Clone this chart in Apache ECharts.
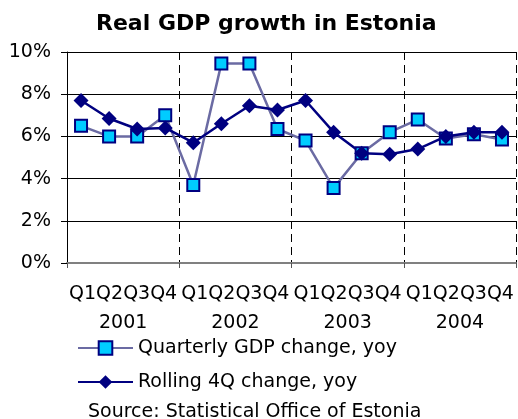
<!DOCTYPE html>
<html>
<head>
<meta charset="utf-8">
<script src="https://cdn.jsdelivr.net/npm/echarts@6/dist/echarts.min.js"></script>
<style>
  html, body { margin: 0; padding: 0; background: #fff; }
  #chart { width: 518px; height: 419px; }
</style>
</head>
<body>
<div id="chart"></div>
<script>
  // quarters 2001 Q1 .. 2004 Q4
  const quarters = [
    '2001Q1', '2001Q2', '2001Q3', '2001Q4',
    '2002Q1', '2002Q2', '2002Q3', '2002Q4',
    '2003Q1', '2003Q2', '2003Q3', '2003Q4',
    '2004Q1', '2004Q2', '2004Q3', '2004Q4'
  ];
  const years = ['2001', '2002', '2003', '2004'];
  const quarterLabel = 'Q1Q2Q3Q4';

  // percent, yoy
  const quarterlyChange = [6.5, 6.0, 6.0, 7.0, 3.7, 9.45, 9.45, 6.35, 5.8, 3.55, 5.2, 6.2, 6.8, 5.9, 6.1, 5.85];
  const rolling4Q = [7.7, 6.85, 6.35, 6.4, 5.7, 6.6, 7.45, 7.25, 7.7, 6.2, 5.2, 5.15, 5.4, 6.0, 6.2, 6.2];

  const fontFamily = '"DejaVu Sans", sans-serif';

  const chart = echarts.init(document.getElementById('chart'));

  chart.setOption({
    animation: false,
    textStyle: {fontFamily: fontFamily, color: '#000'},
    title: [
      {
        text: 'Real GDP growth in Estonia',
        left: 96,
        top: 13,
        padding: 0,
        textStyle: {fontFamily: fontFamily, fontSize: 22, fontWeight: 'bold', color: '#000'}
      },
      {
        text: 'Source: Statistical Office of Estonia',
        left: 88,
        top: 403,
        padding: 0,
        textStyle: {fontFamily: fontFamily, fontSize: 19, fontWeight: 'normal', color: '#000'}
      }
    ],
    grid: {
      left: 67,
      right: 2,
      top: 52,
      bottom: 156
    },
    legend: {
      orient: 'vertical',
      left: 77,
      top: 337,
      padding: 0,
      itemWidth: 55,
      itemHeight: 17,
      itemGap: 12,
      textStyle: {fontFamily: fontFamily, fontSize: 19, color: '#000', lineHeight: 22},
      data: ['Quarterly GDP change, yoy', 'Rolling 4Q change, yoy']
    },
    xAxis: [
      {
        type: 'category',
        data: quarters,
        boundaryGap: true,
        position: 'bottom',
        axisLine: {lineStyle: {color: '#808080', width: 2}},
        axisTick: {show: false},
        axisLabel: {show: false},
        splitLine: {show: false}
      },
      {
        type: 'category',
        data: years,
        boundaryGap: true,
        position: 'bottom',
        axisLine: {show: false},
        axisTick: {
          show: true,
          length: 5,
          interval: 0,
          lineStyle: {color: '#555'}
        },
        axisLabel: {
          interval: 0,
          margin: 17,
          fontSize: 19,
          lineHeight: 29,
          color: '#000',
          formatter: function (v) {
            return quarterLabel + '\n' + v;
          }
        },
        splitLine: {
          show: true,
          interval: 0,
          lineStyle: {color: '#000', width: 1, type: [8, 5]}
        }
      }
    ],
    yAxis: {
      type: 'value',
      min: 0,
      max: 10,
      interval: 2,
      axisLine: {show: true, lineStyle: {color: '#000', width: 1}},
      axisTick: {show: true, length: 6, lineStyle: {color: '#000'}},
      axisLabel: {
        margin: 16,
        fontSize: 19,
        color: '#000',
        formatter: '{value}%'
      },
      splitLine: {lineStyle: {color: '#000', width: 1}}
    },
    series: [
      {
        name: 'Quarterly GDP change, yoy',
        type: 'line',
        xAxisIndex: 0,
        symbol: 'rect',
        symbolSize: 12,
        lineStyle: {color: '#6b6ba3', width: 2.5},
        itemStyle: {color: '#00ccff', borderColor: '#000080', borderWidth: 2},
        data: quarterlyChange
      },
      {
        name: 'Rolling 4Q change, yoy',
        type: 'line',
        xAxisIndex: 0,
        symbol: 'diamond',
        symbolSize: 15,
        lineStyle: {color: '#000080', width: 2.5},
        itemStyle: {color: '#000080'},
        data: rolling4Q
      }
    ]
  });
</script>
</body>
</html>
